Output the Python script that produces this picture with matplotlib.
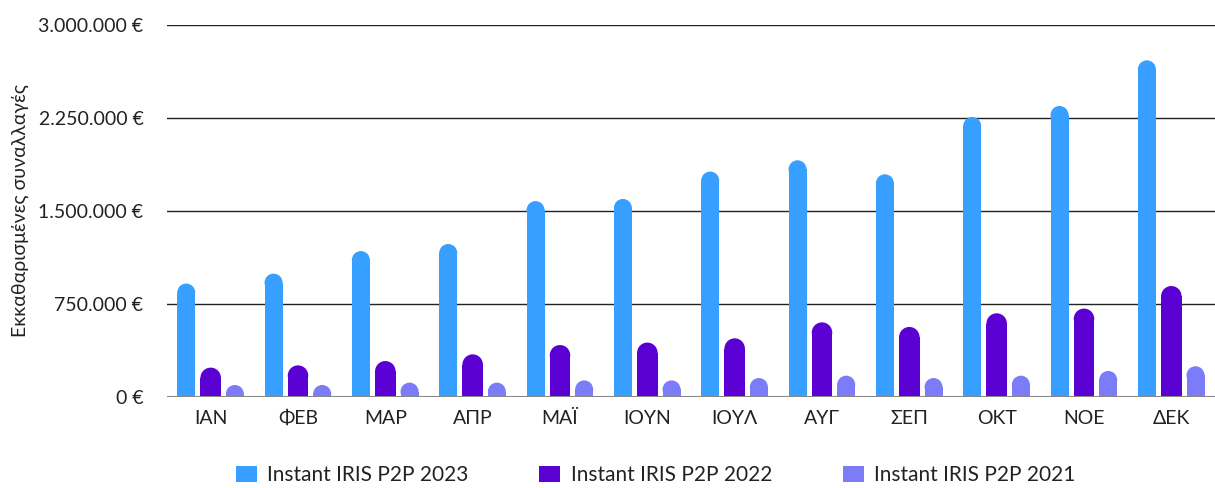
import matplotlib
matplotlib.use("Agg")
import matplotlib.pyplot as plt
from matplotlib.patches import Ellipse, Patch
from matplotlib.ticker import FuncFormatter

months = ["ΙΑΝ", "ΦΕΒ", "ΜΑΡ", "ΑΠΡ", "ΜΑΪ", "ΙΟΥΝ", "ΙΟΥΛ", "ΑΥΓ", "ΣΕΠ", "ΟΚΤ", "ΝΟΕ", "ΔΕΚ"]
p2p_2023 = [915000, 995000, 1177000, 1234000, 1580000, 1597000, 1818000, 1909000, 1796000, 2258000, 2347000, 2715000]
p2p_2022 = [237000, 255000, 290000, 344000, 419000, 439000, 473000, 602000, 565000, 675000, 713000, 895000]
p2p_2021 = [97000, 97000, 116000, 116000, 134000, 134000, 153000, 172000, 153000, 172000, 210000, 248000]
series_names = ["Instant IRIS P2P 2023", "Instant IRIS P2P 2022", "Instant IRIS P2P 2021"]
colors = ["#379FFF", "#5A00D2", "#7C7CF8"]
yticks = [0, 750000, 1500000, 2250000, 3000000]
ylabel = "Εκκαθαρισμένες συναλλαγές"

plt.rcParams['font.family'] = ['Lato', 'DejaVu Sans']

W, H = 1215, 488
fig = plt.figure(figsize=(W / 100, H / 100), dpi=100)
ax_l, ax_r, ax_b, ax_t = 167, 1215, 397, 25
ax = fig.add_axes([ax_l / W, 1 - ax_b / H, (ax_r - ax_l) / W, (ax_b - ax_t) / H])

xmin, xmax = -0.5, len(months) - 0.5
ymin, ymax = 0, 3000000
ax.set_xlim(xmin, xmax)
ax.set_ylim(ymin, ymax)

px_per_x = (ax_r - ax_l) / (xmax - xmin)
px_per_y = (ax_b - ax_t) / (ymax - ymin)

offsets = [-0.28, 0.0, 0.277]
widths_px = [18, 20.5, 18]
for vals, off, wpx, col in zip([p2p_2023, p2p_2022, p2p_2021], offsets, widths_px, colors):
    w = wpx / px_per_x
    r_y = (wpx / 2) / px_per_y
    xs = [i + off for i in range(len(vals))]
    ax.bar(xs, [v - r_y for v in vals], width=w, color=col, linewidth=0, zorder=3)
    for x, v in zip(xs, vals):
        ax.add_patch(Ellipse((x, v - r_y), w, 2 * r_y, facecolor=col, edgecolor="none", zorder=3))

ax.set_yticks(yticks)
ax.yaxis.set_major_formatter(FuncFormatter(lambda v, p: f"{int(v):,}".replace(",", ".") + " €"))
ax.grid(axis="y", color="#222222", linewidth=1, zorder=1)
ax.set_xticks(range(len(months)))
ax.set_xticklabels(months)
ax.tick_params(axis="both", length=0, labelsize=14, colors="#222222")
ax.tick_params(axis="y", pad=17)
ax.tick_params(axis="x", pad=9)
for sp in ax.spines.values():
    sp.set_visible(False)
ax.axhline(0, color="#888888", linewidth=2.2, zorder=4)
ax.set_ylabel(ylabel, fontsize=14, color="#222222")
ax.yaxis.set_label_coords(-(ax_l - 29) / (ax_r - ax_l), 0.5)

handles = [Patch(facecolor=c, edgecolor="none") for c in colors]
fig.legend(handles, series_names, loc="lower left", bbox_to_anchor=(236 / W, 0.006),
           ncol=3, frameon=False, fontsize=15, handlelength=1.0, handleheight=0.8,
           columnspacing=3.4, handletextpad=0.5, labelcolor="#222222",
           borderpad=0.0, borderaxespad=0.0)

fig.savefig("out.png", dpi=100)
